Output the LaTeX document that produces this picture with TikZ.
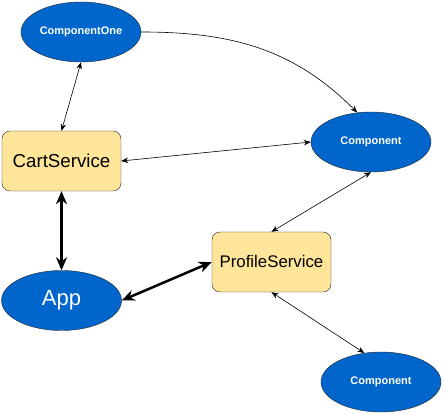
\documentclass[tikz,border=0pt]{standalone}
\usepackage{fontspec}
\setmainfont{Liberation Sans}
\usepackage{tikz}
\usetikzlibrary{arrows.meta}
\usetikzlibrary{positioning}
\definecolor{compblue}{RGB}{0,102,204}
\definecolor{servyellow}{RGB}{255,229,153}
\tikzstyle{comp_node}=[ellipse, draw=black!85, fill=compblue, text=white, inner sep=0pt,
    minimum width=120pt, minimum height=60pt, font=\bfseries\fontsize{11}{13}\selectfont]
\tikzstyle{service_node}=[rectangle, rounded corners=8pt, draw=black!85, fill=servyellow,
    inner sep=0pt, minimum width=119pt, minimum height=60pt]
\tikzstyle{thin_link}=[{Stealth[length=7pt,width=5.5pt]}-{Stealth[length=7pt,width=5.5pt]}, line width=0.6pt]
\tikzstyle{thick_link}=[{Stealth[length=13pt,width=11pt]}-{Stealth[length=13pt,width=11pt]}, line width=2.5pt]
\usetikzlibrary{shapes.geometric}
\begin{document}
\begin{tikzpicture}[x=1pt, y=1pt]
\useasboundingbox (0,0) rectangle (444,414);
\node[comp_node] (compone) at (81,382){ComponentOne};
\node[service_node, font=\fontsize{18.7}{22}\selectfont] (cart) at (61.5,253){CartService};
\node[comp_node] (comp) at (371,272){Component};
\node[service_node, font=\fontsize{16.8}{20}\selectfont] (profile) at (271.5,152){ProfileService};
\node[comp_node, font=\fontsize{22}{26}\selectfont] (app) at (61.5,113.5){App};
\node[comp_node] (comptwo) at (381,32){Component};
\draw[thin_link](compone.south) -- (cart.north);
\draw[-{Stealth[length=7pt,width=5.5pt]}, line width=0.6pt](compone.east) to[out=0, in=135] (comp.115);
\draw[thin_link](cart.east) -- (comp.west);
\draw[thin_link](comp.south) -- (profile.north);
\draw[thin_link](profile.south) -- (comptwo.120);
\draw[thick_link](cart.south) -- (app.north);
\draw[thick_link](app.east) -- (profile.west);
\end{tikzpicture}
\end{document}
